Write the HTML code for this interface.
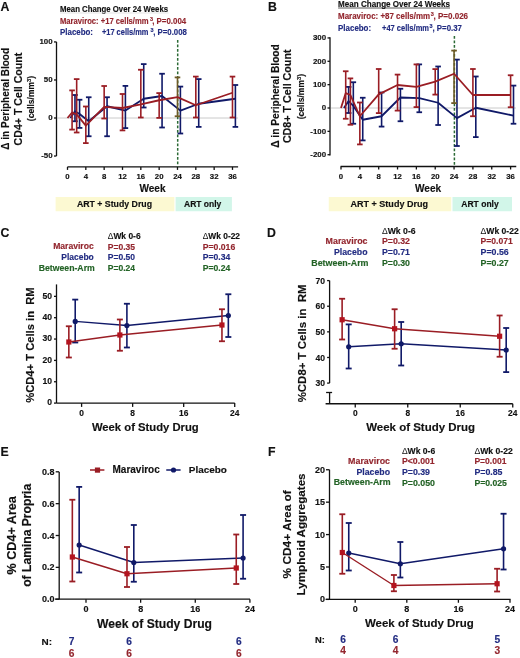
<!DOCTYPE html>
<html><head><meta charset="utf-8"><style>
html,body{margin:0;padding:0;background:#fff;width:520px;height:658px;overflow:hidden}
svg{display:block;filter:blur(0.3px)}
text{font-family:"Liberation Sans", sans-serif}
</style></head><body>
<svg width="520" height="658" viewBox="0 0 520 658">
<rect width="520" height="658" fill="#fff"/>
<text x="0.6" y="10.8" font-size="12.3" fill="#111" stroke="#111" stroke-width="0.15" text-anchor="start" font-weight="bold">A</text>
<text x="60" y="12.25" font-size="8.5" fill="#111" stroke="#111" stroke-width="0.15" text-anchor="start" font-weight="bold" textLength="108.1" lengthAdjust="spacingAndGlyphs">Mean Change Over 24 Weeks</text>
<line x1="60.00" y1="13.00" x2="168.50" y2="13.00" stroke="#d8d8d8" stroke-width="0.7"/>
<text x="60" y="24" font-size="8.5" fill="#93262e" stroke="#93262e" stroke-width="0.15" text-anchor="start" font-weight="bold" textLength="88.5" lengthAdjust="spacingAndGlyphs">Maraviroc: +17 cells/mm</text>
<text x="149.9" y="20.6" font-size="5.5" fill="#93262e" stroke="#93262e" stroke-width="0.15" text-anchor="start" font-weight="bold">3</text>
<text x="152.2" y="24" font-size="8.5" fill="#93262e" stroke="#93262e" stroke-width="0.15" text-anchor="start" font-weight="bold" textLength="34" lengthAdjust="spacingAndGlyphs">, P=0.004</text>
<text x="60" y="35.25" font-size="8.5" fill="#222c82" stroke="#222c82" stroke-width="0.15" text-anchor="start" font-weight="bold" textLength="33" lengthAdjust="spacingAndGlyphs">Placebo:</text>
<text x="101.9" y="35.25" font-size="8.5" fill="#222c82" stroke="#222c82" stroke-width="0.15" text-anchor="start" font-weight="bold" textLength="46.6" lengthAdjust="spacingAndGlyphs">+17 cells/mm</text>
<text x="150.6" y="31.8" font-size="5.5" fill="#222c82" stroke="#222c82" stroke-width="0.15" text-anchor="start" font-weight="bold">3</text>
<text x="153.2" y="35.25" font-size="8.5" fill="#222c82" stroke="#222c82" stroke-width="0.15" text-anchor="start" font-weight="bold" textLength="33.7" lengthAdjust="spacingAndGlyphs">, P=0.008</text>
<text x="9.5" y="98.8" font-size="10.01" fill="#111" stroke="#111" stroke-width="0.15" text-anchor="middle" font-weight="bold" textLength="101.7" lengthAdjust="spacingAndGlyphs" transform="rotate(-90 9.5 98.8)">Δ in Peripheral Blood</text>
<text x="21.7" y="99.05" font-size="10.27" fill="#111" stroke="#111" stroke-width="0.15" text-anchor="middle" font-weight="bold" textLength="92.7" lengthAdjust="spacingAndGlyphs" transform="rotate(-90 21.7 99.05)">CD4+  T Cell Count</text>
<text x="34.0" y="98.5" font-size="8.5" fill="#111" stroke="#111" stroke-width="0.15" text-anchor="middle" font-weight="bold" transform="rotate(-90 34.0 98.5)">(cells/mm<tspan font-size='5.8' dy='-3.2'>3</tspan><tspan dy='3.2'>)</tspan></text>
<line x1="56.50" y1="41.90" x2="56.50" y2="156.00" stroke="#111" stroke-width="1.3"/>
<line x1="54.00" y1="41.93" x2="56.50" y2="41.93" stroke="#111" stroke-width="1.3"/>
<text x="52.6" y="44.29999999999999" font-size="7.9" fill="#111" stroke="#111" stroke-width="0.15" text-anchor="end" font-weight="bold">100</text>
<line x1="54.00" y1="79.97" x2="56.50" y2="79.97" stroke="#111" stroke-width="1.3"/>
<text x="52.6" y="82.33500000000001" font-size="7.9" fill="#111" stroke="#111" stroke-width="0.15" text-anchor="end" font-weight="bold">50</text>
<line x1="54.00" y1="118.00" x2="56.50" y2="118.00" stroke="#111" stroke-width="1.3"/>
<text x="52.6" y="120.37" font-size="7.9" fill="#111" stroke="#111" stroke-width="0.15" text-anchor="end" font-weight="bold">0</text>
<line x1="54.00" y1="156.03" x2="56.50" y2="156.03" stroke="#111" stroke-width="1.3"/>
<text x="52.6" y="158.405" font-size="7.9" fill="#111" stroke="#111" stroke-width="0.15" text-anchor="end" font-weight="bold">-50</text>
<line x1="67.50" y1="166.90" x2="238.10" y2="166.90" stroke="#111" stroke-width="1.3"/>
<line x1="67.50" y1="166.90" x2="67.50" y2="169.90" stroke="#111" stroke-width="1.3"/>
<text x="67.5" y="178.8" font-size="7.8" fill="#111" stroke="#111" stroke-width="0.15" text-anchor="middle" font-weight="bold">0</text>
<line x1="85.83" y1="166.90" x2="85.83" y2="169.90" stroke="#111" stroke-width="1.3"/>
<text x="85.832" y="178.8" font-size="7.8" fill="#111" stroke="#111" stroke-width="0.15" text-anchor="middle" font-weight="bold">4</text>
<line x1="104.16" y1="166.90" x2="104.16" y2="169.90" stroke="#111" stroke-width="1.3"/>
<text x="104.164" y="178.8" font-size="7.8" fill="#111" stroke="#111" stroke-width="0.15" text-anchor="middle" font-weight="bold">8</text>
<line x1="122.50" y1="166.90" x2="122.50" y2="169.90" stroke="#111" stroke-width="1.3"/>
<text x="122.49600000000001" y="178.8" font-size="7.8" fill="#111" stroke="#111" stroke-width="0.15" text-anchor="middle" font-weight="bold">12</text>
<line x1="140.83" y1="166.90" x2="140.83" y2="169.90" stroke="#111" stroke-width="1.3"/>
<text x="140.828" y="178.8" font-size="7.8" fill="#111" stroke="#111" stroke-width="0.15" text-anchor="middle" font-weight="bold">16</text>
<line x1="159.16" y1="166.90" x2="159.16" y2="169.90" stroke="#111" stroke-width="1.3"/>
<text x="159.16" y="178.8" font-size="7.8" fill="#111" stroke="#111" stroke-width="0.15" text-anchor="middle" font-weight="bold">20</text>
<line x1="177.49" y1="166.90" x2="177.49" y2="169.90" stroke="#111" stroke-width="1.3"/>
<text x="177.49200000000002" y="178.8" font-size="7.8" fill="#111" stroke="#111" stroke-width="0.15" text-anchor="middle" font-weight="bold">24</text>
<line x1="195.82" y1="166.90" x2="195.82" y2="169.90" stroke="#111" stroke-width="1.3"/>
<text x="195.824" y="178.8" font-size="7.8" fill="#111" stroke="#111" stroke-width="0.15" text-anchor="middle" font-weight="bold">28</text>
<line x1="214.16" y1="166.90" x2="214.16" y2="169.90" stroke="#111" stroke-width="1.3"/>
<text x="214.156" y="178.8" font-size="7.8" fill="#111" stroke="#111" stroke-width="0.15" text-anchor="middle" font-weight="bold">32</text>
<line x1="232.49" y1="166.90" x2="232.49" y2="169.90" stroke="#111" stroke-width="1.3"/>
<text x="232.488" y="178.8" font-size="7.8" fill="#111" stroke="#111" stroke-width="0.15" text-anchor="middle" font-weight="bold">36</text>
<text x="152.5" y="191.5" font-size="10.02" fill="#111" stroke="#111" stroke-width="0.15" text-anchor="middle" font-weight="bold" textLength="26" lengthAdjust="spacingAndGlyphs">Week</text>
<line x1="57.00" y1="118.00" x2="238.00" y2="118.00" stroke="#c4c4c4" stroke-width="0.9"/>
<rect x="55.6" y="197" width="118.8" height="14.25" fill="#fcf9d2"/>
<rect x="175.6" y="197" width="56.3" height="14.25" fill="#d2f6e9"/>
<text x="76.9" y="206.9" font-size="8.75" fill="#111" stroke="#111" stroke-width="0.15" text-anchor="start" font-weight="bold" textLength="75.1" lengthAdjust="spacingAndGlyphs">ART + Study Drug</text>
<text x="184" y="206.9" font-size="8.5" fill="#111" stroke="#111" stroke-width="0.15" text-anchor="start" font-weight="bold" textLength="37.3" lengthAdjust="spacingAndGlyphs">ART only</text>
<line x1="177.70" y1="40.00" x2="177.70" y2="166.50" stroke="#2b6a35" stroke-width="1.5" stroke-dasharray="2.8,1.7"/>
<line x1="74.98" y1="95.00" x2="74.98" y2="121.25" stroke="#101968" stroke-width="1.6"/>
<line x1="72.18" y1="95.00" x2="77.78" y2="95.00" stroke="#101968" stroke-width="1.8"/>
<line x1="72.18" y1="121.25" x2="77.78" y2="121.25" stroke="#101968" stroke-width="1.8"/>
<line x1="79.57" y1="99.75" x2="79.57" y2="127.90" stroke="#101968" stroke-width="1.6"/>
<line x1="76.77" y1="99.75" x2="82.37" y2="99.75" stroke="#101968" stroke-width="1.8"/>
<line x1="76.77" y1="127.90" x2="82.37" y2="127.90" stroke="#101968" stroke-width="1.8"/>
<line x1="88.73" y1="97.25" x2="88.73" y2="136.25" stroke="#101968" stroke-width="1.6"/>
<line x1="85.93" y1="97.25" x2="91.53" y2="97.25" stroke="#101968" stroke-width="1.8"/>
<line x1="85.93" y1="136.25" x2="91.53" y2="136.25" stroke="#101968" stroke-width="1.8"/>
<line x1="107.06" y1="97.25" x2="107.06" y2="136.25" stroke="#101968" stroke-width="1.6"/>
<line x1="104.26" y1="97.25" x2="109.86" y2="97.25" stroke="#101968" stroke-width="1.8"/>
<line x1="104.26" y1="136.25" x2="109.86" y2="136.25" stroke="#101968" stroke-width="1.8"/>
<line x1="125.40" y1="85.90" x2="125.40" y2="128.10" stroke="#101968" stroke-width="1.6"/>
<line x1="122.60" y1="85.90" x2="128.20" y2="85.90" stroke="#101968" stroke-width="1.8"/>
<line x1="122.60" y1="128.10" x2="128.20" y2="128.10" stroke="#101968" stroke-width="1.8"/>
<line x1="143.73" y1="64.10" x2="143.73" y2="107.50" stroke="#101968" stroke-width="1.6"/>
<line x1="140.93" y1="64.10" x2="146.53" y2="64.10" stroke="#101968" stroke-width="1.8"/>
<line x1="140.93" y1="107.50" x2="146.53" y2="107.50" stroke="#101968" stroke-width="1.8"/>
<line x1="162.06" y1="73.75" x2="162.06" y2="127.50" stroke="#101968" stroke-width="1.6"/>
<line x1="159.26" y1="73.75" x2="164.86" y2="73.75" stroke="#101968" stroke-width="1.8"/>
<line x1="159.26" y1="127.50" x2="164.86" y2="127.50" stroke="#101968" stroke-width="1.8"/>
<line x1="180.39" y1="86.60" x2="180.39" y2="133.50" stroke="#101968" stroke-width="1.6"/>
<line x1="177.59" y1="86.60" x2="183.19" y2="86.60" stroke="#101968" stroke-width="1.8"/>
<line x1="177.59" y1="133.50" x2="183.19" y2="133.50" stroke="#101968" stroke-width="1.8"/>
<line x1="198.72" y1="79.10" x2="198.72" y2="126.90" stroke="#101968" stroke-width="1.6"/>
<line x1="195.92" y1="79.10" x2="201.52" y2="79.10" stroke="#101968" stroke-width="1.8"/>
<line x1="195.92" y1="126.90" x2="201.52" y2="126.90" stroke="#101968" stroke-width="1.8"/>
<line x1="235.39" y1="85.00" x2="235.39" y2="126.90" stroke="#101968" stroke-width="1.6"/>
<line x1="232.59" y1="85.00" x2="238.19" y2="85.00" stroke="#101968" stroke-width="1.8"/>
<line x1="232.59" y1="126.90" x2="238.19" y2="126.90" stroke="#101968" stroke-width="1.8"/>
<polyline points="70.40,118.00 74.98,111.25 79.57,114.00 88.73,121.25 107.06,106.25 125.40,110.60 143.73,98.75 162.06,96.00 180.39,110.60 198.72,103.75 235.39,98.75" fill="none" stroke="#101968" stroke-width="1.8" stroke-linejoin="round"/>
<line x1="72.08" y1="90.40" x2="72.08" y2="129.60" stroke="#9a1d24" stroke-width="1.6"/>
<line x1="69.28" y1="90.40" x2="74.88" y2="90.40" stroke="#9a1d24" stroke-width="1.8"/>
<line x1="69.28" y1="129.60" x2="74.88" y2="129.60" stroke="#9a1d24" stroke-width="1.8"/>
<line x1="76.67" y1="79.10" x2="76.67" y2="132.50" stroke="#9a1d24" stroke-width="1.6"/>
<line x1="73.87" y1="79.10" x2="79.47" y2="79.10" stroke="#9a1d24" stroke-width="1.8"/>
<line x1="73.87" y1="132.50" x2="79.47" y2="132.50" stroke="#9a1d24" stroke-width="1.8"/>
<line x1="85.83" y1="106.50" x2="85.83" y2="143.10" stroke="#9a1d24" stroke-width="1.6"/>
<line x1="83.03" y1="106.50" x2="88.63" y2="106.50" stroke="#9a1d24" stroke-width="1.8"/>
<line x1="83.03" y1="143.10" x2="88.63" y2="143.10" stroke="#9a1d24" stroke-width="1.8"/>
<line x1="104.16" y1="86.00" x2="104.16" y2="118.50" stroke="#9a1d24" stroke-width="1.6"/>
<line x1="101.36" y1="86.00" x2="106.96" y2="86.00" stroke="#9a1d24" stroke-width="1.8"/>
<line x1="101.36" y1="118.50" x2="106.96" y2="118.50" stroke="#9a1d24" stroke-width="1.8"/>
<line x1="122.50" y1="94.00" x2="122.50" y2="130.40" stroke="#9a1d24" stroke-width="1.6"/>
<line x1="119.70" y1="94.00" x2="125.30" y2="94.00" stroke="#9a1d24" stroke-width="1.8"/>
<line x1="119.70" y1="130.40" x2="125.30" y2="130.40" stroke="#9a1d24" stroke-width="1.8"/>
<line x1="140.83" y1="69.75" x2="140.83" y2="117.50" stroke="#9a1d24" stroke-width="1.6"/>
<line x1="138.03" y1="69.75" x2="143.63" y2="69.75" stroke="#9a1d24" stroke-width="1.8"/>
<line x1="138.03" y1="117.50" x2="143.63" y2="117.50" stroke="#9a1d24" stroke-width="1.8"/>
<line x1="159.16" y1="93.10" x2="159.16" y2="117.90" stroke="#9a1d24" stroke-width="1.6"/>
<line x1="156.36" y1="93.10" x2="161.96" y2="93.10" stroke="#9a1d24" stroke-width="1.8"/>
<line x1="156.36" y1="117.90" x2="161.96" y2="117.90" stroke="#9a1d24" stroke-width="1.8"/>
<line x1="177.49" y1="77.40" x2="177.49" y2="116.25" stroke="#6e5a26" stroke-width="1.6"/>
<line x1="174.69" y1="77.40" x2="180.29" y2="77.40" stroke="#6e5a26" stroke-width="1.8"/>
<line x1="174.69" y1="116.25" x2="180.29" y2="116.25" stroke="#6e5a26" stroke-width="1.8"/>
<line x1="195.82" y1="76.60" x2="195.82" y2="117.50" stroke="#9a1d24" stroke-width="1.6"/>
<line x1="193.02" y1="76.60" x2="198.62" y2="76.60" stroke="#9a1d24" stroke-width="1.8"/>
<line x1="193.02" y1="117.50" x2="198.62" y2="117.50" stroke="#9a1d24" stroke-width="1.8"/>
<line x1="232.49" y1="76.60" x2="232.49" y2="117.50" stroke="#9a1d24" stroke-width="1.6"/>
<line x1="229.69" y1="76.60" x2="235.29" y2="76.60" stroke="#9a1d24" stroke-width="1.8"/>
<line x1="229.69" y1="117.50" x2="235.29" y2="117.50" stroke="#9a1d24" stroke-width="1.8"/>
<polyline points="67.50,118.00 72.08,112.50 76.67,114.40 85.83,125.60 104.16,106.90 122.50,108.00 140.83,104.40 159.16,100.25 177.49,97.10 195.82,105.25 232.49,92.75" fill="none" stroke="#9a1d24" stroke-width="1.8" stroke-linejoin="round"/>
<text x="268.0" y="10.7" font-size="12.3" fill="#111" stroke="#111" stroke-width="0.15" text-anchor="start" font-weight="bold">B</text>
<text x="338.1" y="6.9" font-size="8.5" fill="#111" stroke="#111" stroke-width="0.15" text-anchor="start" font-weight="bold" textLength="112" lengthAdjust="spacingAndGlyphs">Mean Change Over 24 Weeks</text>
<line x1="338.10" y1="8.00" x2="450.00" y2="8.00" stroke="#111" stroke-width="0.7"/>
<text x="338.1" y="19.4" font-size="8.5" fill="#93262e" stroke="#93262e" stroke-width="0.15" text-anchor="start" font-weight="bold" textLength="92" lengthAdjust="spacingAndGlyphs">Maraviroc: +87 cells/mm</text>
<text x="430.8" y="16.0" font-size="5.5" fill="#93262e" stroke="#93262e" stroke-width="0.15" text-anchor="start" font-weight="bold">3</text>
<text x="433.5" y="19.4" font-size="8.5" fill="#93262e" stroke="#93262e" stroke-width="0.15" text-anchor="start" font-weight="bold" textLength="34.6" lengthAdjust="spacingAndGlyphs">, P=0.026</text>
<text x="338.1" y="31" font-size="8.5" fill="#222c82" stroke="#222c82" stroke-width="0.15" text-anchor="start" font-weight="bold" textLength="33" lengthAdjust="spacingAndGlyphs">Placebo:</text>
<text x="382" y="31" font-size="8.5" fill="#222c82" stroke="#222c82" stroke-width="0.15" text-anchor="start" font-weight="bold" textLength="47" lengthAdjust="spacingAndGlyphs">+47 cells/mm</text>
<text x="429.4" y="27.6" font-size="5.5" fill="#222c82" stroke="#222c82" stroke-width="0.15" text-anchor="start" font-weight="bold">3</text>
<text x="432.5" y="31" font-size="8.5" fill="#222c82" stroke="#222c82" stroke-width="0.15" text-anchor="start" font-weight="bold" textLength="29.4" lengthAdjust="spacingAndGlyphs">, P=0.37</text>
<text x="278.5" y="96.0" font-size="10.2" fill="#111" stroke="#111" stroke-width="0.15" text-anchor="middle" font-weight="bold" textLength="103.7" lengthAdjust="spacingAndGlyphs" transform="rotate(-90 278.5 96.0)">Δ in Peripheral Blood</text>
<text x="291.2" y="96.3" font-size="10.37" fill="#111" stroke="#111" stroke-width="0.15" text-anchor="middle" font-weight="bold" textLength="93.6" lengthAdjust="spacingAndGlyphs" transform="rotate(-90 291.2 96.3)">CD8+  T Cell Count</text>
<text x="303.9" y="96.6" font-size="8.5" fill="#111" stroke="#111" stroke-width="0.15" text-anchor="middle" font-weight="bold" transform="rotate(-90 303.9 96.6)">(cells/mm<tspan font-size='5.8' dy='-3.2'>3</tspan><tspan dy='3.2'>)</tspan></text>
<line x1="330.00" y1="37.25" x2="330.00" y2="155.60" stroke="#111" stroke-width="1.3"/>
<line x1="327.50" y1="37.95" x2="330.00" y2="37.95" stroke="#111" stroke-width="1.3"/>
<text x="326.1" y="40.32" font-size="7.9" fill="#111" stroke="#111" stroke-width="0.15" text-anchor="end" font-weight="bold">300</text>
<line x1="327.50" y1="61.30" x2="330.00" y2="61.30" stroke="#111" stroke-width="1.3"/>
<text x="326.1" y="63.669999999999995" font-size="7.9" fill="#111" stroke="#111" stroke-width="0.15" text-anchor="end" font-weight="bold">200</text>
<line x1="327.50" y1="84.65" x2="330.00" y2="84.65" stroke="#111" stroke-width="1.3"/>
<text x="326.1" y="87.02000000000001" font-size="7.9" fill="#111" stroke="#111" stroke-width="0.15" text-anchor="end" font-weight="bold">100</text>
<line x1="327.50" y1="108.00" x2="330.00" y2="108.00" stroke="#111" stroke-width="1.3"/>
<text x="326.1" y="110.37" font-size="7.9" fill="#111" stroke="#111" stroke-width="0.15" text-anchor="end" font-weight="bold">0</text>
<line x1="327.50" y1="131.35" x2="330.00" y2="131.35" stroke="#111" stroke-width="1.3"/>
<text x="326.1" y="133.72" font-size="7.9" fill="#111" stroke="#111" stroke-width="0.15" text-anchor="end" font-weight="bold">-100</text>
<line x1="327.50" y1="154.70" x2="330.00" y2="154.70" stroke="#111" stroke-width="1.3"/>
<text x="326.1" y="157.07" font-size="7.9" fill="#111" stroke="#111" stroke-width="0.15" text-anchor="end" font-weight="bold">-200</text>
<line x1="340.60" y1="166.50" x2="516.25" y2="166.50" stroke="#111" stroke-width="1.3"/>
<line x1="341.00" y1="166.50" x2="341.00" y2="169.50" stroke="#111" stroke-width="1.3"/>
<text x="341.0" y="178.8" font-size="7.8" fill="#111" stroke="#111" stroke-width="0.15" text-anchor="middle" font-weight="bold">0</text>
<line x1="359.84" y1="166.50" x2="359.84" y2="169.50" stroke="#111" stroke-width="1.3"/>
<text x="359.844" y="178.8" font-size="7.8" fill="#111" stroke="#111" stroke-width="0.15" text-anchor="middle" font-weight="bold">4</text>
<line x1="378.69" y1="166.50" x2="378.69" y2="169.50" stroke="#111" stroke-width="1.3"/>
<text x="378.688" y="178.8" font-size="7.8" fill="#111" stroke="#111" stroke-width="0.15" text-anchor="middle" font-weight="bold">8</text>
<line x1="397.53" y1="166.50" x2="397.53" y2="169.50" stroke="#111" stroke-width="1.3"/>
<text x="397.532" y="178.8" font-size="7.8" fill="#111" stroke="#111" stroke-width="0.15" text-anchor="middle" font-weight="bold">12</text>
<line x1="416.38" y1="166.50" x2="416.38" y2="169.50" stroke="#111" stroke-width="1.3"/>
<text x="416.376" y="178.8" font-size="7.8" fill="#111" stroke="#111" stroke-width="0.15" text-anchor="middle" font-weight="bold">16</text>
<line x1="435.22" y1="166.50" x2="435.22" y2="169.50" stroke="#111" stroke-width="1.3"/>
<text x="435.22" y="178.8" font-size="7.8" fill="#111" stroke="#111" stroke-width="0.15" text-anchor="middle" font-weight="bold">20</text>
<line x1="454.06" y1="166.50" x2="454.06" y2="169.50" stroke="#111" stroke-width="1.3"/>
<text x="454.064" y="178.8" font-size="7.8" fill="#111" stroke="#111" stroke-width="0.15" text-anchor="middle" font-weight="bold">24</text>
<line x1="472.91" y1="166.50" x2="472.91" y2="169.50" stroke="#111" stroke-width="1.3"/>
<text x="472.908" y="178.8" font-size="7.8" fill="#111" stroke="#111" stroke-width="0.15" text-anchor="middle" font-weight="bold">28</text>
<line x1="491.75" y1="166.50" x2="491.75" y2="169.50" stroke="#111" stroke-width="1.3"/>
<text x="491.752" y="178.8" font-size="7.8" fill="#111" stroke="#111" stroke-width="0.15" text-anchor="middle" font-weight="bold">32</text>
<line x1="510.60" y1="166.50" x2="510.60" y2="169.50" stroke="#111" stroke-width="1.3"/>
<text x="510.596" y="178.8" font-size="7.8" fill="#111" stroke="#111" stroke-width="0.15" text-anchor="middle" font-weight="bold">36</text>
<text x="428.1" y="191.5" font-size="10.1" fill="#111" stroke="#111" stroke-width="0.15" text-anchor="middle" font-weight="bold" textLength="26.2" lengthAdjust="spacingAndGlyphs">Week</text>
<line x1="331.00" y1="108.00" x2="516.00" y2="108.00" stroke="#c4c4c4" stroke-width="0.9"/>
<rect x="328.75" y="197" width="122.5" height="14.25" fill="#fcf9d2"/>
<rect x="452.5" y="197" width="59.5" height="14.25" fill="#d2f6e9"/>
<text x="350.5" y="206.9" font-size="9.03" fill="#111" stroke="#111" stroke-width="0.15" text-anchor="start" font-weight="bold" textLength="77.5" lengthAdjust="spacingAndGlyphs">ART + Study Drug</text>
<text x="461.25" y="206.9" font-size="8.55" fill="#111" stroke="#111" stroke-width="0.15" text-anchor="start" font-weight="bold" textLength="37.5" lengthAdjust="spacingAndGlyphs">ART only</text>
<line x1="454.40" y1="36.00" x2="454.40" y2="166.50" stroke="#2b6a35" stroke-width="1.5" stroke-dasharray="2.8,1.7"/>
<line x1="348.61" y1="86.90" x2="348.61" y2="113.00" stroke="#101968" stroke-width="1.6"/>
<line x1="345.81" y1="86.90" x2="351.41" y2="86.90" stroke="#101968" stroke-width="1.8"/>
<line x1="345.81" y1="113.00" x2="351.41" y2="113.00" stroke="#101968" stroke-width="1.8"/>
<line x1="353.32" y1="82.25" x2="353.32" y2="123.75" stroke="#101968" stroke-width="1.6"/>
<line x1="350.52" y1="82.25" x2="356.12" y2="82.25" stroke="#101968" stroke-width="1.8"/>
<line x1="350.52" y1="123.75" x2="356.12" y2="123.75" stroke="#101968" stroke-width="1.8"/>
<line x1="362.74" y1="97.75" x2="362.74" y2="140.40" stroke="#101968" stroke-width="1.6"/>
<line x1="359.94" y1="97.75" x2="365.54" y2="97.75" stroke="#101968" stroke-width="1.8"/>
<line x1="359.94" y1="140.40" x2="365.54" y2="140.40" stroke="#101968" stroke-width="1.8"/>
<line x1="381.59" y1="92.50" x2="381.59" y2="126.60" stroke="#101968" stroke-width="1.6"/>
<line x1="378.79" y1="92.50" x2="384.39" y2="92.50" stroke="#101968" stroke-width="1.8"/>
<line x1="378.79" y1="126.60" x2="384.39" y2="126.60" stroke="#101968" stroke-width="1.8"/>
<line x1="400.43" y1="88.75" x2="400.43" y2="121.25" stroke="#101968" stroke-width="1.6"/>
<line x1="397.63" y1="88.75" x2="403.23" y2="88.75" stroke="#101968" stroke-width="1.8"/>
<line x1="397.63" y1="121.25" x2="403.23" y2="121.25" stroke="#101968" stroke-width="1.8"/>
<line x1="419.28" y1="64.40" x2="419.28" y2="112.25" stroke="#101968" stroke-width="1.6"/>
<line x1="416.48" y1="64.40" x2="422.08" y2="64.40" stroke="#101968" stroke-width="1.8"/>
<line x1="416.48" y1="112.25" x2="422.08" y2="112.25" stroke="#101968" stroke-width="1.8"/>
<line x1="438.12" y1="66.50" x2="438.12" y2="125.00" stroke="#101968" stroke-width="1.6"/>
<line x1="435.32" y1="66.50" x2="440.92" y2="66.50" stroke="#101968" stroke-width="1.8"/>
<line x1="435.32" y1="125.00" x2="440.92" y2="125.00" stroke="#101968" stroke-width="1.8"/>
<line x1="456.96" y1="59.60" x2="456.96" y2="146.00" stroke="#101968" stroke-width="1.6"/>
<line x1="454.16" y1="59.60" x2="459.76" y2="59.60" stroke="#101968" stroke-width="1.8"/>
<line x1="454.16" y1="146.00" x2="459.76" y2="146.00" stroke="#101968" stroke-width="1.8"/>
<line x1="475.81" y1="76.50" x2="475.81" y2="137.10" stroke="#101968" stroke-width="1.6"/>
<line x1="473.01" y1="76.50" x2="478.61" y2="76.50" stroke="#101968" stroke-width="1.8"/>
<line x1="473.01" y1="137.10" x2="478.61" y2="137.10" stroke="#101968" stroke-width="1.8"/>
<line x1="513.50" y1="85.60" x2="513.50" y2="123.75" stroke="#101968" stroke-width="1.6"/>
<line x1="510.70" y1="85.60" x2="516.30" y2="85.60" stroke="#101968" stroke-width="1.8"/>
<line x1="510.70" y1="123.75" x2="516.30" y2="123.75" stroke="#101968" stroke-width="1.8"/>
<polyline points="343.90,108.00 348.61,101.00 353.32,106.00 362.74,119.75 381.59,116.25 400.43,97.50 419.28,98.10 438.12,102.75 456.96,118.10 475.81,107.75 513.50,115.60" fill="none" stroke="#101968" stroke-width="1.8" stroke-linejoin="round"/>
<line x1="345.71" y1="71.25" x2="345.71" y2="118.75" stroke="#9a1d24" stroke-width="1.6"/>
<line x1="342.91" y1="71.25" x2="348.51" y2="71.25" stroke="#9a1d24" stroke-width="1.8"/>
<line x1="342.91" y1="118.75" x2="348.51" y2="118.75" stroke="#9a1d24" stroke-width="1.8"/>
<line x1="350.42" y1="78.40" x2="350.42" y2="124.75" stroke="#9a1d24" stroke-width="1.6"/>
<line x1="347.62" y1="78.40" x2="353.22" y2="78.40" stroke="#9a1d24" stroke-width="1.8"/>
<line x1="347.62" y1="124.75" x2="353.22" y2="124.75" stroke="#9a1d24" stroke-width="1.8"/>
<line x1="359.84" y1="102.50" x2="359.84" y2="144.40" stroke="#9a1d24" stroke-width="1.6"/>
<line x1="357.04" y1="102.50" x2="362.64" y2="102.50" stroke="#9a1d24" stroke-width="1.8"/>
<line x1="357.04" y1="144.40" x2="362.64" y2="144.40" stroke="#9a1d24" stroke-width="1.8"/>
<line x1="378.69" y1="69.00" x2="378.69" y2="113.10" stroke="#9a1d24" stroke-width="1.6"/>
<line x1="375.89" y1="69.00" x2="381.49" y2="69.00" stroke="#9a1d24" stroke-width="1.8"/>
<line x1="375.89" y1="113.10" x2="381.49" y2="113.10" stroke="#9a1d24" stroke-width="1.8"/>
<line x1="397.53" y1="74.60" x2="397.53" y2="110.60" stroke="#9a1d24" stroke-width="1.6"/>
<line x1="394.73" y1="74.60" x2="400.33" y2="74.60" stroke="#9a1d24" stroke-width="1.8"/>
<line x1="394.73" y1="110.60" x2="400.33" y2="110.60" stroke="#9a1d24" stroke-width="1.8"/>
<line x1="416.38" y1="64.40" x2="416.38" y2="107.10" stroke="#9a1d24" stroke-width="1.6"/>
<line x1="413.58" y1="64.40" x2="419.18" y2="64.40" stroke="#9a1d24" stroke-width="1.8"/>
<line x1="413.58" y1="107.10" x2="419.18" y2="107.10" stroke="#9a1d24" stroke-width="1.8"/>
<line x1="435.22" y1="69.10" x2="435.22" y2="94.60" stroke="#9a1d24" stroke-width="1.6"/>
<line x1="432.42" y1="69.10" x2="438.02" y2="69.10" stroke="#9a1d24" stroke-width="1.8"/>
<line x1="432.42" y1="94.60" x2="438.02" y2="94.60" stroke="#9a1d24" stroke-width="1.8"/>
<line x1="454.06" y1="50.60" x2="454.06" y2="103.10" stroke="#6e5a26" stroke-width="1.6"/>
<line x1="451.26" y1="50.60" x2="456.86" y2="50.60" stroke="#6e5a26" stroke-width="1.8"/>
<line x1="451.26" y1="103.10" x2="456.86" y2="103.10" stroke="#6e5a26" stroke-width="1.8"/>
<line x1="472.91" y1="69.00" x2="472.91" y2="116.25" stroke="#9a1d24" stroke-width="1.6"/>
<line x1="470.11" y1="69.00" x2="475.71" y2="69.00" stroke="#9a1d24" stroke-width="1.8"/>
<line x1="470.11" y1="116.25" x2="475.71" y2="116.25" stroke="#9a1d24" stroke-width="1.8"/>
<line x1="510.60" y1="75.25" x2="510.60" y2="107.25" stroke="#9a1d24" stroke-width="1.6"/>
<line x1="507.80" y1="75.25" x2="513.40" y2="75.25" stroke="#9a1d24" stroke-width="1.8"/>
<line x1="507.80" y1="107.25" x2="513.40" y2="107.25" stroke="#9a1d24" stroke-width="1.8"/>
<polyline points="341.00,108.00 345.71,93.10 350.42,95.00 359.84,116.25 378.69,94.40 397.53,85.00 416.38,86.90 435.22,81.60 454.06,73.75 472.91,95.00 510.60,95.00" fill="none" stroke="#9a1d24" stroke-width="1.8" stroke-linejoin="round"/>
<text x="0.6" y="237.3" font-size="12.3" fill="#111" stroke="#111" stroke-width="0.15" text-anchor="start" font-weight="bold">C</text>
<text x="93.75" y="249.3" font-size="8.59" fill="#93262e" stroke="#93262e" stroke-width="0.15" text-anchor="end" font-weight="bold" textLength="40.6" lengthAdjust="spacingAndGlyphs">Maraviroc</text>
<text x="93.75" y="260.0" font-size="8.48" fill="#222c82" stroke="#222c82" stroke-width="0.15" text-anchor="end" font-weight="bold" textLength="32.5" lengthAdjust="spacingAndGlyphs">Placebo</text>
<text x="94.75" y="270.7" font-size="8.69" fill="#236326" stroke="#236326" stroke-width="0.15" text-anchor="end" font-weight="bold" textLength="56" lengthAdjust="spacingAndGlyphs">Between-Arm</text>
<text x="107.75" y="239" font-size="8.33" fill="#111" stroke="#111" stroke-width="0.15" text-anchor="start" font-weight="bold" textLength="32.85" lengthAdjust="spacingAndGlyphs"><tspan font-weight='normal' stroke-width='0'>Δ</tspan>Wk 0-6</text>
<text x="107.75" y="249.6" font-size="8.52" fill="#93262e" stroke="#93262e" stroke-width="0.15" text-anchor="start" font-weight="bold" textLength="27.25" lengthAdjust="spacingAndGlyphs">P=0.35</text>
<text x="107.75" y="260.25" font-size="8.52" fill="#222c82" stroke="#222c82" stroke-width="0.15" text-anchor="start" font-weight="bold" textLength="27.25" lengthAdjust="spacingAndGlyphs">P=0.50</text>
<text x="107.75" y="271" font-size="8.52" fill="#236326" stroke="#236326" stroke-width="0.15" text-anchor="start" font-weight="bold" textLength="27.25" lengthAdjust="spacingAndGlyphs">P=0.24</text>
<text x="202.75" y="239" font-size="8.28" fill="#111" stroke="#111" stroke-width="0.15" text-anchor="start" font-weight="bold" textLength="37.25" lengthAdjust="spacingAndGlyphs"><tspan font-weight='normal' stroke-width='0'>Δ</tspan>Wk 0-22</text>
<text x="202.75" y="249.6" font-size="8.66" fill="#93262e" stroke="#93262e" stroke-width="0.15" text-anchor="start" font-weight="bold" textLength="32.5" lengthAdjust="spacingAndGlyphs">P=0.016</text>
<text x="202.75" y="260.25" font-size="8.6" fill="#222c82" stroke="#222c82" stroke-width="0.15" text-anchor="start" font-weight="bold" textLength="27.5" lengthAdjust="spacingAndGlyphs">P=0.34</text>
<text x="202.75" y="271" font-size="8.6" fill="#236326" stroke="#236326" stroke-width="0.15" text-anchor="start" font-weight="bold" textLength="27.5" lengthAdjust="spacingAndGlyphs">P=0.24</text>
<text x="34.3" y="345.1" font-size="11.4" fill="#111" stroke="#111" stroke-width="0.15" text-anchor="middle" font-weight="bold" textLength="115.4" lengthAdjust="spacingAndGlyphs" transform="rotate(-90 34.3 345.1)">%CD4+ T Cells in&#160; RM</text>
<line x1="56.50" y1="284.40" x2="56.50" y2="403.10" stroke="#111" stroke-width="1.3"/>
<line x1="54.00" y1="296.35" x2="56.50" y2="296.35" stroke="#111" stroke-width="1.3"/>
<text x="52.1" y="298.672" font-size="8.6" fill="#111" stroke="#111" stroke-width="0.15" text-anchor="end" font-weight="bold">50</text>
<line x1="54.00" y1="317.70" x2="56.50" y2="317.70" stroke="#111" stroke-width="1.3"/>
<text x="52.1" y="320.02200000000005" font-size="8.6" fill="#111" stroke="#111" stroke-width="0.15" text-anchor="end" font-weight="bold">40</text>
<line x1="54.00" y1="339.05" x2="56.50" y2="339.05" stroke="#111" stroke-width="1.3"/>
<text x="52.1" y="341.372" font-size="8.6" fill="#111" stroke="#111" stroke-width="0.15" text-anchor="end" font-weight="bold">30</text>
<line x1="54.00" y1="360.40" x2="56.50" y2="360.40" stroke="#111" stroke-width="1.3"/>
<text x="52.1" y="362.72200000000004" font-size="8.6" fill="#111" stroke="#111" stroke-width="0.15" text-anchor="end" font-weight="bold">20</text>
<line x1="54.00" y1="381.75" x2="56.50" y2="381.75" stroke="#111" stroke-width="1.3"/>
<text x="52.1" y="384.072" font-size="8.6" fill="#111" stroke="#111" stroke-width="0.15" text-anchor="end" font-weight="bold">10</text>
<line x1="54.00" y1="403.10" x2="56.50" y2="403.10" stroke="#111" stroke-width="1.3"/>
<text x="52.1" y="405.422" font-size="8.6" fill="#111" stroke="#111" stroke-width="0.15" text-anchor="end" font-weight="bold">0</text>
<line x1="56.50" y1="403.10" x2="234.75" y2="403.10" stroke="#111" stroke-width="1.3"/>
<line x1="81.60" y1="403.10" x2="81.60" y2="406.90" stroke="#111" stroke-width="1.3"/>
<text x="81.6" y="416.0" font-size="8.4" fill="#111" stroke="#111" stroke-width="0.15" text-anchor="middle" font-weight="bold">0</text>
<line x1="132.64" y1="403.10" x2="132.64" y2="406.90" stroke="#111" stroke-width="1.3"/>
<text x="132.64" y="416.0" font-size="8.4" fill="#111" stroke="#111" stroke-width="0.15" text-anchor="middle" font-weight="bold">8</text>
<line x1="183.68" y1="403.10" x2="183.68" y2="406.90" stroke="#111" stroke-width="1.3"/>
<text x="183.68" y="416.0" font-size="8.4" fill="#111" stroke="#111" stroke-width="0.15" text-anchor="middle" font-weight="bold">16</text>
<line x1="234.72" y1="403.10" x2="234.72" y2="406.90" stroke="#111" stroke-width="1.3"/>
<text x="234.72" y="416.0" font-size="8.4" fill="#111" stroke="#111" stroke-width="0.15" text-anchor="middle" font-weight="bold">24</text>
<text x="91.9" y="430.6" font-size="11.27" fill="#111" stroke="#111" stroke-width="0.15" text-anchor="start" font-weight="bold" textLength="106.85" lengthAdjust="spacingAndGlyphs">Week of Study Drug</text>
<line x1="75.22" y1="299.60" x2="75.22" y2="342.50" stroke="#101968" stroke-width="1.6"/>
<line x1="72.22" y1="299.60" x2="78.22" y2="299.60" stroke="#101968" stroke-width="1.8"/>
<line x1="72.22" y1="342.50" x2="78.22" y2="342.50" stroke="#101968" stroke-width="1.8"/>
<line x1="126.90" y1="303.75" x2="126.90" y2="347.50" stroke="#101968" stroke-width="1.6"/>
<line x1="123.90" y1="303.75" x2="129.90" y2="303.75" stroke="#101968" stroke-width="1.8"/>
<line x1="123.90" y1="347.50" x2="129.90" y2="347.50" stroke="#101968" stroke-width="1.8"/>
<line x1="228.34" y1="294.25" x2="228.34" y2="337.00" stroke="#101968" stroke-width="1.6"/>
<line x1="225.34" y1="294.25" x2="231.34" y2="294.25" stroke="#101968" stroke-width="1.8"/>
<line x1="225.34" y1="337.00" x2="231.34" y2="337.00" stroke="#101968" stroke-width="1.8"/>
<polyline points="75.22,321.40 126.90,325.50 228.34,315.50" fill="none" stroke="#101968" stroke-width="1.4" stroke-linejoin="round"/>
<circle cx="75.22" cy="321.40" r="2.6" fill="#101968"/>
<circle cx="126.90" cy="325.50" r="2.6" fill="#101968"/>
<circle cx="228.34" cy="315.50" r="2.6" fill="#101968"/>
<line x1="68.84" y1="326.25" x2="68.84" y2="357.50" stroke="#9a1d24" stroke-width="1.6"/>
<line x1="65.84" y1="326.25" x2="71.84" y2="326.25" stroke="#9a1d24" stroke-width="1.8"/>
<line x1="65.84" y1="357.50" x2="71.84" y2="357.50" stroke="#9a1d24" stroke-width="1.8"/>
<line x1="119.88" y1="319.50" x2="119.88" y2="350.75" stroke="#9a1d24" stroke-width="1.6"/>
<line x1="116.88" y1="319.50" x2="122.88" y2="319.50" stroke="#9a1d24" stroke-width="1.8"/>
<line x1="116.88" y1="350.75" x2="122.88" y2="350.75" stroke="#9a1d24" stroke-width="1.8"/>
<line x1="221.96" y1="309.25" x2="221.96" y2="341.25" stroke="#9a1d24" stroke-width="1.6"/>
<line x1="218.96" y1="309.25" x2="224.96" y2="309.25" stroke="#9a1d24" stroke-width="1.8"/>
<line x1="218.96" y1="341.25" x2="224.96" y2="341.25" stroke="#9a1d24" stroke-width="1.8"/>
<polyline points="68.84,342.00 119.88,335.00 221.96,325.00" fill="none" stroke="#9a1d24" stroke-width="1.4" stroke-linejoin="round"/>
<rect x="66.24" y="339.40" width="5.20" height="5.20" fill="#b3141f"/>
<rect x="117.28" y="332.40" width="5.20" height="5.20" fill="#b3141f"/>
<rect x="219.36" y="322.40" width="5.20" height="5.20" fill="#b3141f"/>
<text x="267.0" y="237.3" font-size="12.3" fill="#111" stroke="#111" stroke-width="0.15" text-anchor="start" font-weight="bold">D</text>
<text x="367.5" y="244.2" font-size="8.87" fill="#93262e" stroke="#93262e" stroke-width="0.15" text-anchor="end" font-weight="bold" textLength="41.9" lengthAdjust="spacingAndGlyphs">Maraviroc</text>
<text x="367.5" y="255.1" font-size="8.74" fill="#222c82" stroke="#222c82" stroke-width="0.15" text-anchor="end" font-weight="bold" textLength="33.5" lengthAdjust="spacingAndGlyphs">Placebo</text>
<text x="368.5" y="266.1" font-size="8.88" fill="#236326" stroke="#236326" stroke-width="0.15" text-anchor="end" font-weight="bold" textLength="57.25" lengthAdjust="spacingAndGlyphs">Between-Arm</text>
<text x="381.9" y="234" font-size="8.55" fill="#111" stroke="#111" stroke-width="0.15" text-anchor="start" font-weight="bold" textLength="33.7" lengthAdjust="spacingAndGlyphs"><tspan font-weight='normal' stroke-width='0'>Δ</tspan>Wk 0-6</text>
<text x="381.9" y="244.4" font-size="8.79" fill="#93262e" stroke="#93262e" stroke-width="0.15" text-anchor="start" font-weight="bold" textLength="28.1" lengthAdjust="spacingAndGlyphs">P=0.32</text>
<text x="381.9" y="255.25" font-size="8.79" fill="#222c82" stroke="#222c82" stroke-width="0.15" text-anchor="start" font-weight="bold" textLength="28.1" lengthAdjust="spacingAndGlyphs">P=0.71</text>
<text x="381.9" y="266.25" font-size="8.79" fill="#236326" stroke="#236326" stroke-width="0.15" text-anchor="start" font-weight="bold" textLength="28.1" lengthAdjust="spacingAndGlyphs">P=0.30</text>
<text x="480.6" y="234" font-size="8.48" fill="#111" stroke="#111" stroke-width="0.15" text-anchor="start" font-weight="bold" textLength="38.15" lengthAdjust="spacingAndGlyphs"><tspan font-weight='normal' stroke-width='0'>Δ</tspan>Wk 0-22</text>
<text x="480.6" y="244.4" font-size="8.57" fill="#93262e" stroke="#93262e" stroke-width="0.15" text-anchor="start" font-weight="bold" textLength="32.15" lengthAdjust="spacingAndGlyphs">P=0.071</text>
<text x="480.6" y="255.25" font-size="8.8" fill="#222c82" stroke="#222c82" stroke-width="0.15" text-anchor="start" font-weight="bold" textLength="28.15" lengthAdjust="spacingAndGlyphs">P=0.56</text>
<text x="480.6" y="266.25" font-size="8.8" fill="#236326" stroke="#236326" stroke-width="0.15" text-anchor="start" font-weight="bold" textLength="28.15" lengthAdjust="spacingAndGlyphs">P=0.27</text>
<text x="305.9" y="343.35" font-size="11.6" fill="#111" stroke="#111" stroke-width="0.15" text-anchor="middle" font-weight="bold" textLength="117.9" lengthAdjust="spacingAndGlyphs" transform="rotate(-90 305.9 343.35)">%CD8+ T Cells in&#160; RM</text>
<line x1="329.60" y1="280.60" x2="329.60" y2="383.10" stroke="#111" stroke-width="1.3"/>
<line x1="327.10" y1="280.60" x2="329.60" y2="280.60" stroke="#111" stroke-width="1.3"/>
<text x="325.1" y="283.8" font-size="8.6" fill="#111" stroke="#111" stroke-width="0.15" text-anchor="end" font-weight="bold">70</text>
<line x1="327.10" y1="306.23" x2="329.60" y2="306.23" stroke="#111" stroke-width="1.3"/>
<text x="325.1" y="309.425" font-size="8.6" fill="#111" stroke="#111" stroke-width="0.15" text-anchor="end" font-weight="bold">60</text>
<line x1="327.10" y1="331.85" x2="329.60" y2="331.85" stroke="#111" stroke-width="1.3"/>
<text x="325.1" y="335.05" font-size="8.6" fill="#111" stroke="#111" stroke-width="0.15" text-anchor="end" font-weight="bold">50</text>
<line x1="327.10" y1="357.48" x2="329.60" y2="357.48" stroke="#111" stroke-width="1.3"/>
<text x="325.1" y="360.675" font-size="8.6" fill="#111" stroke="#111" stroke-width="0.15" text-anchor="end" font-weight="bold">40</text>
<line x1="327.10" y1="383.10" x2="329.60" y2="383.10" stroke="#111" stroke-width="1.3"/>
<text x="325.1" y="386.3" font-size="8.6" fill="#111" stroke="#111" stroke-width="0.15" text-anchor="end" font-weight="bold">30</text>
<line x1="326.10" y1="392.50" x2="332.10" y2="392.50" stroke="#111" stroke-width="1.3"/>
<line x1="329.60" y1="392.50" x2="329.60" y2="403.75" stroke="#111" stroke-width="1.3"/>
<line x1="325.60" y1="403.75" x2="512.75" y2="403.75" stroke="#111" stroke-width="1.3"/>
<line x1="355.25" y1="403.75" x2="355.25" y2="407.50" stroke="#111" stroke-width="1.3"/>
<text x="355.25" y="416.4" font-size="8.4" fill="#111" stroke="#111" stroke-width="0.15" text-anchor="middle" font-weight="bold">0</text>
<line x1="407.75" y1="403.75" x2="407.75" y2="407.50" stroke="#111" stroke-width="1.3"/>
<text x="407.75" y="416.4" font-size="8.4" fill="#111" stroke="#111" stroke-width="0.15" text-anchor="middle" font-weight="bold">8</text>
<line x1="460.25" y1="403.75" x2="460.25" y2="407.50" stroke="#111" stroke-width="1.3"/>
<text x="460.25" y="416.4" font-size="8.4" fill="#111" stroke="#111" stroke-width="0.15" text-anchor="middle" font-weight="bold">16</text>
<line x1="512.75" y1="403.75" x2="512.75" y2="407.50" stroke="#111" stroke-width="1.3"/>
<text x="512.75" y="416.4" font-size="8.4" fill="#111" stroke="#111" stroke-width="0.15" text-anchor="middle" font-weight="bold">24</text>
<text x="366.25" y="431.0" font-size="11.47" fill="#111" stroke="#111" stroke-width="0.15" text-anchor="start" font-weight="bold" textLength="108.75" lengthAdjust="spacingAndGlyphs">Week of Study Drug</text>
<line x1="348.69" y1="324.40" x2="348.69" y2="368.50" stroke="#101968" stroke-width="1.6"/>
<line x1="345.69" y1="324.40" x2="351.69" y2="324.40" stroke="#101968" stroke-width="1.8"/>
<line x1="345.69" y1="368.50" x2="351.69" y2="368.50" stroke="#101968" stroke-width="1.8"/>
<line x1="401.19" y1="322.00" x2="401.19" y2="365.50" stroke="#101968" stroke-width="1.6"/>
<line x1="398.19" y1="322.00" x2="404.19" y2="322.00" stroke="#101968" stroke-width="1.8"/>
<line x1="398.19" y1="365.50" x2="404.19" y2="365.50" stroke="#101968" stroke-width="1.8"/>
<line x1="506.19" y1="328.00" x2="506.19" y2="372.10" stroke="#101968" stroke-width="1.6"/>
<line x1="503.19" y1="328.00" x2="509.19" y2="328.00" stroke="#101968" stroke-width="1.8"/>
<line x1="503.19" y1="372.10" x2="509.19" y2="372.10" stroke="#101968" stroke-width="1.8"/>
<polyline points="348.69,346.75 401.19,343.75 506.19,350.00" fill="none" stroke="#101968" stroke-width="1.4" stroke-linejoin="round"/>
<circle cx="348.69" cy="346.75" r="2.6" fill="#101968"/>
<circle cx="401.19" cy="343.75" r="2.6" fill="#101968"/>
<circle cx="506.19" cy="350.00" r="2.6" fill="#101968"/>
<line x1="342.12" y1="298.75" x2="342.12" y2="339.50" stroke="#9a1d24" stroke-width="1.6"/>
<line x1="339.12" y1="298.75" x2="345.12" y2="298.75" stroke="#9a1d24" stroke-width="1.8"/>
<line x1="339.12" y1="339.50" x2="345.12" y2="339.50" stroke="#9a1d24" stroke-width="1.8"/>
<line x1="394.62" y1="309.25" x2="394.62" y2="348.75" stroke="#9a1d24" stroke-width="1.6"/>
<line x1="391.62" y1="309.25" x2="397.62" y2="309.25" stroke="#9a1d24" stroke-width="1.8"/>
<line x1="391.62" y1="348.75" x2="397.62" y2="348.75" stroke="#9a1d24" stroke-width="1.8"/>
<line x1="499.62" y1="315.50" x2="499.62" y2="356.75" stroke="#9a1d24" stroke-width="1.6"/>
<line x1="496.62" y1="315.50" x2="502.62" y2="315.50" stroke="#9a1d24" stroke-width="1.8"/>
<line x1="496.62" y1="356.75" x2="502.62" y2="356.75" stroke="#9a1d24" stroke-width="1.8"/>
<polyline points="342.12,319.75 394.62,328.75 499.62,336.25" fill="none" stroke="#9a1d24" stroke-width="1.4" stroke-linejoin="round"/>
<rect x="339.52" y="317.15" width="5.20" height="5.20" fill="#b3141f"/>
<rect x="392.02" y="326.15" width="5.20" height="5.20" fill="#b3141f"/>
<rect x="497.02" y="333.65" width="5.20" height="5.20" fill="#b3141f"/>
<text x="0.6" y="456.4" font-size="12.3" fill="#111" stroke="#111" stroke-width="0.15" text-anchor="start" font-weight="bold">E</text>
<line x1="90.00" y1="470.00" x2="104.40" y2="470.00" stroke="#9a1d24" stroke-width="1.5"/>
<rect x="94.90" y="467.50" width="5.20" height="5.20" fill="#9a1d24"/>
<text x="112.5" y="473.1" font-size="10.0" fill="#111" stroke="#111" stroke-width="0.15" text-anchor="start" font-weight="bold" textLength="47.25" lengthAdjust="spacingAndGlyphs">Maraviroc</text>
<line x1="166.25" y1="470.00" x2="180.60" y2="470.00" stroke="#101968" stroke-width="1.5"/>
<circle cx="173.50" cy="470.00" r="2.6" fill="#101968"/>
<text x="188.75" y="473.1" font-size="9.95" fill="#111" stroke="#111" stroke-width="0.15" text-anchor="start" font-weight="bold" textLength="38.15" lengthAdjust="spacingAndGlyphs">Placebo</text>
<text x="16.3" y="535.3" font-size="12.04" fill="#111" stroke="#111" stroke-width="0.15" text-anchor="middle" font-weight="bold" textLength="78.2" lengthAdjust="spacingAndGlyphs" transform="rotate(-90 16.3 535.3)">%  CD4+ Area</text>
<text x="31.1" y="535.3" font-size="12.12" fill="#111" stroke="#111" stroke-width="0.15" text-anchor="middle" font-weight="bold" textLength="103" lengthAdjust="spacingAndGlyphs" transform="rotate(-90 31.1 535.3)">of Lamina Propria</text>
<line x1="59.20" y1="471.90" x2="59.20" y2="599.20" stroke="#111" stroke-width="1.3"/>
<line x1="55.70" y1="471.80" x2="59.20" y2="471.80" stroke="#111" stroke-width="1.3"/>
<text x="54.6" y="474.80000000000007" font-size="9.0" fill="#111" stroke="#111" stroke-width="0.15" text-anchor="end" font-weight="bold">0.8</text>
<line x1="55.70" y1="503.65" x2="59.20" y2="503.65" stroke="#111" stroke-width="1.3"/>
<text x="54.6" y="506.65000000000003" font-size="9.0" fill="#111" stroke="#111" stroke-width="0.15" text-anchor="end" font-weight="bold">0.6</text>
<line x1="55.70" y1="535.50" x2="59.20" y2="535.50" stroke="#111" stroke-width="1.3"/>
<text x="54.6" y="538.5" font-size="9.0" fill="#111" stroke="#111" stroke-width="0.15" text-anchor="end" font-weight="bold">0.4</text>
<line x1="55.70" y1="567.35" x2="59.20" y2="567.35" stroke="#111" stroke-width="1.3"/>
<text x="54.6" y="570.35" font-size="9.0" fill="#111" stroke="#111" stroke-width="0.15" text-anchor="end" font-weight="bold">0.2</text>
<line x1="55.70" y1="599.20" x2="59.20" y2="599.20" stroke="#111" stroke-width="1.3"/>
<text x="54.6" y="602.2" font-size="9.0" fill="#111" stroke="#111" stroke-width="0.15" text-anchor="end" font-weight="bold">0.0</text>
<line x1="55.00" y1="599.20" x2="250.00" y2="599.20" stroke="#111" stroke-width="1.3"/>
<line x1="86.00" y1="599.20" x2="86.00" y2="602.75" stroke="#111" stroke-width="1.3"/>
<text x="86.0" y="612.4" font-size="9.0" fill="#111" stroke="#111" stroke-width="0.15" text-anchor="middle" font-weight="bold">0</text>
<line x1="140.64" y1="599.20" x2="140.64" y2="602.75" stroke="#111" stroke-width="1.3"/>
<text x="140.64" y="612.4" font-size="9.0" fill="#111" stroke="#111" stroke-width="0.15" text-anchor="middle" font-weight="bold">8</text>
<line x1="195.28" y1="599.20" x2="195.28" y2="602.75" stroke="#111" stroke-width="1.3"/>
<text x="195.28" y="612.4" font-size="9.0" fill="#111" stroke="#111" stroke-width="0.15" text-anchor="middle" font-weight="bold">16</text>
<line x1="249.92" y1="599.20" x2="249.92" y2="602.75" stroke="#111" stroke-width="1.3"/>
<text x="249.92000000000002" y="612.4" font-size="9.0" fill="#111" stroke="#111" stroke-width="0.15" text-anchor="middle" font-weight="bold">24</text>
<text x="97" y="627.5" font-size="12.13" fill="#111" stroke="#111" stroke-width="0.15" text-anchor="start" font-weight="bold" textLength="115" lengthAdjust="spacingAndGlyphs">Week of Study Drug</text>
<line x1="79.17" y1="486.90" x2="79.17" y2="572.50" stroke="#101968" stroke-width="1.6"/>
<line x1="76.17" y1="486.90" x2="82.17" y2="486.90" stroke="#101968" stroke-width="1.8"/>
<line x1="76.17" y1="572.50" x2="82.17" y2="572.50" stroke="#101968" stroke-width="1.8"/>
<line x1="133.81" y1="525.00" x2="133.81" y2="581.75" stroke="#101968" stroke-width="1.6"/>
<line x1="130.81" y1="525.00" x2="136.81" y2="525.00" stroke="#101968" stroke-width="1.8"/>
<line x1="130.81" y1="581.75" x2="136.81" y2="581.75" stroke="#101968" stroke-width="1.8"/>
<line x1="243.09" y1="515.00" x2="243.09" y2="578.75" stroke="#101968" stroke-width="1.6"/>
<line x1="240.09" y1="515.00" x2="246.09" y2="515.00" stroke="#101968" stroke-width="1.8"/>
<line x1="240.09" y1="578.75" x2="246.09" y2="578.75" stroke="#101968" stroke-width="1.8"/>
<polyline points="79.17,545.00 133.81,562.50 243.09,558.00" fill="none" stroke="#101968" stroke-width="1.4" stroke-linejoin="round"/>
<circle cx="79.17" cy="545.00" r="2.6" fill="#101968"/>
<circle cx="133.81" cy="562.50" r="2.6" fill="#101968"/>
<circle cx="243.09" cy="558.00" r="2.6" fill="#101968"/>
<line x1="72.34" y1="499.75" x2="72.34" y2="581.50" stroke="#9a1d24" stroke-width="1.6"/>
<line x1="69.34" y1="499.75" x2="75.34" y2="499.75" stroke="#9a1d24" stroke-width="1.8"/>
<line x1="69.34" y1="581.50" x2="75.34" y2="581.50" stroke="#9a1d24" stroke-width="1.8"/>
<line x1="126.98" y1="547.00" x2="126.98" y2="587.00" stroke="#9a1d24" stroke-width="1.6"/>
<line x1="123.98" y1="547.00" x2="129.98" y2="547.00" stroke="#9a1d24" stroke-width="1.8"/>
<line x1="123.98" y1="587.00" x2="129.98" y2="587.00" stroke="#9a1d24" stroke-width="1.8"/>
<line x1="236.26" y1="534.50" x2="236.26" y2="584.00" stroke="#9a1d24" stroke-width="1.6"/>
<line x1="233.26" y1="534.50" x2="239.26" y2="534.50" stroke="#9a1d24" stroke-width="1.8"/>
<line x1="233.26" y1="584.00" x2="239.26" y2="584.00" stroke="#9a1d24" stroke-width="1.8"/>
<polyline points="72.34,557.00 126.98,573.75 236.26,568.00" fill="none" stroke="#9a1d24" stroke-width="1.4" stroke-linejoin="round"/>
<rect x="69.74" y="554.40" width="5.20" height="5.20" fill="#b3141f"/>
<rect x="124.38" y="571.15" width="5.20" height="5.20" fill="#b3141f"/>
<rect x="233.66" y="565.40" width="5.20" height="5.20" fill="#b3141f"/>
<text x="41.6" y="645.0" font-size="9.95" fill="#111" stroke="#111" stroke-width="0.15" text-anchor="start" font-weight="bold" textLength="10.5" lengthAdjust="spacingAndGlyphs">N:</text>
<text x="71.6" y="645.0" font-size="10.2" fill="#222c82" stroke="#222c82" stroke-width="0.15" text-anchor="middle" font-weight="bold">7</text>
<text x="129" y="645.0" font-size="10.2" fill="#222c82" stroke="#222c82" stroke-width="0.15" text-anchor="middle" font-weight="bold">6</text>
<text x="238.75" y="645.0" font-size="10.2" fill="#222c82" stroke="#222c82" stroke-width="0.15" text-anchor="middle" font-weight="bold">6</text>
<text x="71.6" y="656.8" font-size="10.2" fill="#93262e" stroke="#93262e" stroke-width="0.15" text-anchor="middle" font-weight="bold">6</text>
<text x="129" y="656.8" font-size="10.2" fill="#93262e" stroke="#93262e" stroke-width="0.15" text-anchor="middle" font-weight="bold">6</text>
<text x="238.75" y="656.8" font-size="10.2" fill="#93262e" stroke="#93262e" stroke-width="0.15" text-anchor="middle" font-weight="bold">6</text>
<text x="268.0" y="456.4" font-size="12.3" fill="#111" stroke="#111" stroke-width="0.15" text-anchor="start" font-weight="bold">F</text>
<text x="390" y="463.9" font-size="8.87" fill="#93262e" stroke="#93262e" stroke-width="0.15" text-anchor="end" font-weight="bold" textLength="41.9" lengthAdjust="spacingAndGlyphs">Maraviroc</text>
<text x="390" y="474.5" font-size="8.74" fill="#222c82" stroke="#222c82" stroke-width="0.15" text-anchor="end" font-weight="bold" textLength="33.5" lengthAdjust="spacingAndGlyphs">Placebo</text>
<text x="390.6" y="485.3" font-size="8.82" fill="#236326" stroke="#236326" stroke-width="0.15" text-anchor="end" font-weight="bold" textLength="56.85" lengthAdjust="spacingAndGlyphs">Between-Arm</text>
<text x="401.9" y="453.75" font-size="8.46" fill="#111" stroke="#111" stroke-width="0.15" text-anchor="start" font-weight="bold" textLength="33.35" lengthAdjust="spacingAndGlyphs"><tspan font-weight='normal' stroke-width='0'>Δ</tspan>Wk 0-6</text>
<text x="401.9" y="464.4" font-size="8.6" fill="#93262e" stroke="#93262e" stroke-width="0.15" text-anchor="start" font-weight="bold" textLength="32.85" lengthAdjust="spacingAndGlyphs">P<0.001</text>
<text x="401.9" y="475" font-size="8.79" fill="#222c82" stroke="#222c82" stroke-width="0.15" text-anchor="start" font-weight="bold" textLength="28.1" lengthAdjust="spacingAndGlyphs">P=0.39</text>
<text x="401.9" y="485.6" font-size="8.82" fill="#236326" stroke="#236326" stroke-width="0.15" text-anchor="start" font-weight="bold" textLength="33.1" lengthAdjust="spacingAndGlyphs">P=0.050</text>
<text x="474.4" y="453.75" font-size="8.53" fill="#111" stroke="#111" stroke-width="0.15" text-anchor="start" font-weight="bold" textLength="38.35" lengthAdjust="spacingAndGlyphs"><tspan font-weight='normal' stroke-width='0'>Δ</tspan>Wk 0-22</text>
<text x="474.4" y="464.4" font-size="8.55" fill="#93262e" stroke="#93262e" stroke-width="0.15" text-anchor="start" font-weight="bold" textLength="32.1" lengthAdjust="spacingAndGlyphs">P=0.001</text>
<text x="474.4" y="475" font-size="8.79" fill="#222c82" stroke="#222c82" stroke-width="0.15" text-anchor="start" font-weight="bold" textLength="28.1" lengthAdjust="spacingAndGlyphs">P=0.85</text>
<text x="474.4" y="485.6" font-size="8.66" fill="#236326" stroke="#236326" stroke-width="0.15" text-anchor="start" font-weight="bold" textLength="32.5" lengthAdjust="spacingAndGlyphs">P=0.025</text>
<text x="290.8" y="534.3" font-size="11.43" fill="#111" stroke="#111" stroke-width="0.15" text-anchor="middle" font-weight="bold" textLength="88.2" lengthAdjust="spacingAndGlyphs" transform="rotate(-90 290.8 534.3)">%  CD4+ Area of</text>
<text x="305.0" y="534.4" font-size="11.64" fill="#111" stroke="#111" stroke-width="0.15" text-anchor="middle" font-weight="bold" textLength="122" lengthAdjust="spacingAndGlyphs" transform="rotate(-90 305.0 534.4)">Lymphoid Aggregates</text>
<line x1="329.50" y1="469.75" x2="329.50" y2="599.40" stroke="#111" stroke-width="1.3"/>
<line x1="326.00" y1="469.75" x2="329.50" y2="469.75" stroke="#111" stroke-width="1.3"/>
<text x="324.9" y="472.75" font-size="9.0" fill="#111" stroke="#111" stroke-width="0.15" text-anchor="end" font-weight="bold">20</text>
<line x1="326.00" y1="502.16" x2="329.50" y2="502.16" stroke="#111" stroke-width="1.3"/>
<text x="324.9" y="505.16249999999997" font-size="9.0" fill="#111" stroke="#111" stroke-width="0.15" text-anchor="end" font-weight="bold">15</text>
<line x1="326.00" y1="534.57" x2="329.50" y2="534.57" stroke="#111" stroke-width="1.3"/>
<text x="324.9" y="537.5749999999999" font-size="9.0" fill="#111" stroke="#111" stroke-width="0.15" text-anchor="end" font-weight="bold">10</text>
<line x1="326.00" y1="566.99" x2="329.50" y2="566.99" stroke="#111" stroke-width="1.3"/>
<text x="324.9" y="569.9875" font-size="9.0" fill="#111" stroke="#111" stroke-width="0.15" text-anchor="end" font-weight="bold">5</text>
<line x1="326.00" y1="599.40" x2="329.50" y2="599.40" stroke="#111" stroke-width="1.3"/>
<text x="324.9" y="602.4" font-size="9.0" fill="#111" stroke="#111" stroke-width="0.15" text-anchor="end" font-weight="bold">0</text>
<line x1="325.60" y1="599.40" x2="510.60" y2="599.40" stroke="#111" stroke-width="1.3"/>
<line x1="355.20" y1="599.40" x2="355.20" y2="602.75" stroke="#111" stroke-width="1.3"/>
<text x="355.2" y="612.4" font-size="9.0" fill="#111" stroke="#111" stroke-width="0.15" text-anchor="middle" font-weight="bold">0</text>
<line x1="406.80" y1="599.40" x2="406.80" y2="602.75" stroke="#111" stroke-width="1.3"/>
<text x="406.8" y="612.4" font-size="9.0" fill="#111" stroke="#111" stroke-width="0.15" text-anchor="middle" font-weight="bold">8</text>
<line x1="458.40" y1="599.40" x2="458.40" y2="602.75" stroke="#111" stroke-width="1.3"/>
<text x="458.4" y="612.4" font-size="9.0" fill="#111" stroke="#111" stroke-width="0.15" text-anchor="middle" font-weight="bold">16</text>
<line x1="510.00" y1="599.40" x2="510.00" y2="602.75" stroke="#111" stroke-width="1.3"/>
<text x="510.0" y="612.4" font-size="9.0" fill="#111" stroke="#111" stroke-width="0.15" text-anchor="middle" font-weight="bold">24</text>
<text x="365" y="626.6" font-size="11.47" fill="#111" stroke="#111" stroke-width="0.15" text-anchor="start" font-weight="bold" textLength="108.75" lengthAdjust="spacingAndGlyphs">Week of Study Drug</text>
<line x1="348.75" y1="523.00" x2="348.75" y2="570.50" stroke="#101968" stroke-width="1.6"/>
<line x1="345.75" y1="523.00" x2="351.75" y2="523.00" stroke="#101968" stroke-width="1.8"/>
<line x1="345.75" y1="570.50" x2="351.75" y2="570.50" stroke="#101968" stroke-width="1.8"/>
<line x1="400.35" y1="542.00" x2="400.35" y2="577.50" stroke="#101968" stroke-width="1.6"/>
<line x1="397.35" y1="542.00" x2="403.35" y2="542.00" stroke="#101968" stroke-width="1.8"/>
<line x1="397.35" y1="577.50" x2="403.35" y2="577.50" stroke="#101968" stroke-width="1.8"/>
<line x1="503.55" y1="513.75" x2="503.55" y2="569.50" stroke="#101968" stroke-width="1.6"/>
<line x1="500.55" y1="513.75" x2="506.55" y2="513.75" stroke="#101968" stroke-width="1.8"/>
<line x1="500.55" y1="569.50" x2="506.55" y2="569.50" stroke="#101968" stroke-width="1.8"/>
<polyline points="348.75,553.00 400.35,563.75 503.55,548.75" fill="none" stroke="#101968" stroke-width="1.4" stroke-linejoin="round"/>
<circle cx="348.75" cy="553.00" r="2.6" fill="#101968"/>
<circle cx="400.35" cy="563.75" r="2.6" fill="#101968"/>
<circle cx="503.55" cy="548.75" r="2.6" fill="#101968"/>
<line x1="342.30" y1="514.25" x2="342.30" y2="573.75" stroke="#9a1d24" stroke-width="1.6"/>
<line x1="339.30" y1="514.25" x2="345.30" y2="514.25" stroke="#9a1d24" stroke-width="1.8"/>
<line x1="339.30" y1="573.75" x2="345.30" y2="573.75" stroke="#9a1d24" stroke-width="1.8"/>
<line x1="393.90" y1="575.00" x2="393.90" y2="591.25" stroke="#9a1d24" stroke-width="1.6"/>
<line x1="390.90" y1="575.00" x2="396.90" y2="575.00" stroke="#9a1d24" stroke-width="1.8"/>
<line x1="390.90" y1="591.25" x2="396.90" y2="591.25" stroke="#9a1d24" stroke-width="1.8"/>
<line x1="497.10" y1="568.75" x2="497.10" y2="591.50" stroke="#9a1d24" stroke-width="1.6"/>
<line x1="494.10" y1="568.75" x2="500.10" y2="568.75" stroke="#9a1d24" stroke-width="1.8"/>
<line x1="494.10" y1="591.50" x2="500.10" y2="591.50" stroke="#9a1d24" stroke-width="1.8"/>
<polyline points="342.30,552.50 393.90,585.50 497.10,583.75" fill="none" stroke="#9a1d24" stroke-width="1.4" stroke-linejoin="round"/>
<rect x="339.70" y="549.90" width="5.20" height="5.20" fill="#b3141f"/>
<rect x="391.30" y="582.90" width="5.20" height="5.20" fill="#b3141f"/>
<rect x="494.50" y="581.15" width="5.20" height="5.20" fill="#b3141f"/>
<text x="315.0" y="642.6" font-size="9.38" fill="#111" stroke="#111" stroke-width="0.15" text-anchor="start" font-weight="bold" textLength="9.9" lengthAdjust="spacingAndGlyphs">N:</text>
<text x="343.1" y="642.6" font-size="10.2" fill="#222c82" stroke="#222c82" stroke-width="0.15" text-anchor="middle" font-weight="bold">6</text>
<text x="395.5" y="642.6" font-size="10.2" fill="#222c82" stroke="#222c82" stroke-width="0.15" text-anchor="middle" font-weight="bold">6</text>
<text x="497.25" y="642.6" font-size="10.2" fill="#222c82" stroke="#222c82" stroke-width="0.15" text-anchor="middle" font-weight="bold">5</text>
<text x="343.1" y="653.9" font-size="10.2" fill="#93262e" stroke="#93262e" stroke-width="0.15" text-anchor="middle" font-weight="bold">4</text>
<text x="395.5" y="653.9" font-size="10.2" fill="#93262e" stroke="#93262e" stroke-width="0.15" text-anchor="middle" font-weight="bold">4</text>
<text x="497.25" y="653.9" font-size="10.2" fill="#93262e" stroke="#93262e" stroke-width="0.15" text-anchor="middle" font-weight="bold">3</text>
</svg></body></html>
